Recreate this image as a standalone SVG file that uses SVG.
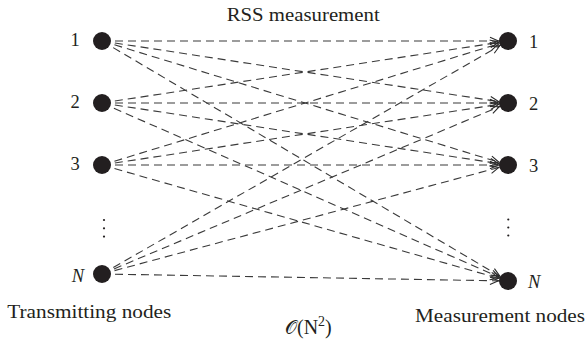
<svg xmlns="http://www.w3.org/2000/svg" width="588" height="343" viewBox="0 0 588 343">
<style>
.t{font-family:"Liberation Serif","Times New Roman",serif;fill:#231f20;}
.lbl{font-size:19px;}
.num{font-size:18.5px;}
.it{font-style:italic;}
.e{stroke:#3a3a3a;stroke-width:1.1;stroke-dasharray:8 5;fill:none;marker-end:url(#ah);}
.n{fill:#231f20;}
.d{fill:#231f20;}
</style>
<defs>
<marker id="ah" markerUnits="userSpaceOnUse" markerWidth="20" markerHeight="20" refX="0" refY="0" orient="auto" overflow="visible">
<path d="M-18,-3.8 L-9.5,0 L-18,3.8" fill="none" stroke="#2a2a2a" stroke-width="1.1"/>
</marker>
</defs>
<rect width="588" height="343" fill="#fff"/>
<g id="connectors">
<line class="e" x1="102" y1="41" x2="508" y2="41"/>
<line class="e" x1="102" y1="41" x2="508" y2="103"/>
<line class="e" x1="102" y1="41" x2="508" y2="165"/>
<line class="e" x1="102" y1="41" x2="508" y2="281"/>
<line class="e" x1="102" y1="103" x2="508" y2="41"/>
<line class="e" x1="102" y1="103" x2="508" y2="103"/>
<line class="e" x1="102" y1="103" x2="508" y2="165"/>
<line class="e" x1="102" y1="103" x2="508" y2="281"/>
<line class="e" x1="102" y1="165" x2="508" y2="41"/>
<line class="e" x1="102" y1="165" x2="508" y2="103"/>
<line class="e" x1="102" y1="165" x2="508" y2="165"/>
<line class="e" x1="102" y1="165" x2="508" y2="281"/>
<line class="e" x1="102" y1="274" x2="508" y2="41"/>
<line class="e" x1="102" y1="274" x2="508" y2="103"/>
<line class="e" x1="102" y1="274" x2="508" y2="165"/>
<line class="e" x1="102" y1="274" x2="508" y2="281"/>
</g>
<g id="tx1"><circle class="n" cx="102" cy="41" r="9"/><text class="t num" x="75" y="45.5" text-anchor="middle">1</text></g>
<g id="tx2"><circle class="n" cx="102" cy="103" r="9"/><text class="t num" x="75" y="107.5" text-anchor="middle">2</text></g>
<g id="tx3"><circle class="n" cx="102" cy="165" r="9"/><text class="t num" x="75" y="169.5" text-anchor="middle">3</text></g>
<g id="txN"><circle class="n" cx="102" cy="274" r="9"/><text class="t num it" x="78" y="282" text-anchor="middle">N</text></g>
<g id="rx1"><circle class="n" cx="508" cy="41" r="9"/><text class="t num" x="529" y="48">1</text></g>
<g id="rx2"><circle class="n" cx="508" cy="103" r="9"/><text class="t num" x="529" y="110">2</text></g>
<g id="rx3"><circle class="n" cx="508" cy="165" r="9"/><text class="t num" x="529" y="172">3</text></g>
<g id="rxN"><circle class="n" cx="508" cy="281" r="9"/><text class="t num it" x="528" y="288">N</text></g>
<g id="vdots-left"><circle class="d" cx="104" cy="220" r="1.1"/><circle class="d" cx="104" cy="228.3" r="1.1"/><circle class="d" cx="104" cy="236.6" r="1.1"/></g>
<g id="vdots-right"><circle class="d" cx="508.3" cy="219.5" r="1.1"/><circle class="d" cx="508.3" cy="227.5" r="1.1"/><circle class="d" cx="508.3" cy="235.5" r="1.1"/></g>
<text class="t lbl" x="226.7" y="20.7" textLength="153" lengthAdjust="spacingAndGlyphs">RSS measurement</text>
<text class="t lbl" x="7.3" y="318.3" textLength="164" lengthAdjust="spacingAndGlyphs">Transmitting nodes</text>
<text class="t lbl" x="415" y="321.7" textLength="170" lengthAdjust="spacingAndGlyphs">Measurement nodes</text>
<text class="t" x="285" y="334" font-size="20"><tspan font-family="DejaVu Serif,serif" font-size="19">𝒪</tspan>(N<tspan font-size="14" dy="-8">2</tspan><tspan dy="8">)</tspan></text>
</svg>
